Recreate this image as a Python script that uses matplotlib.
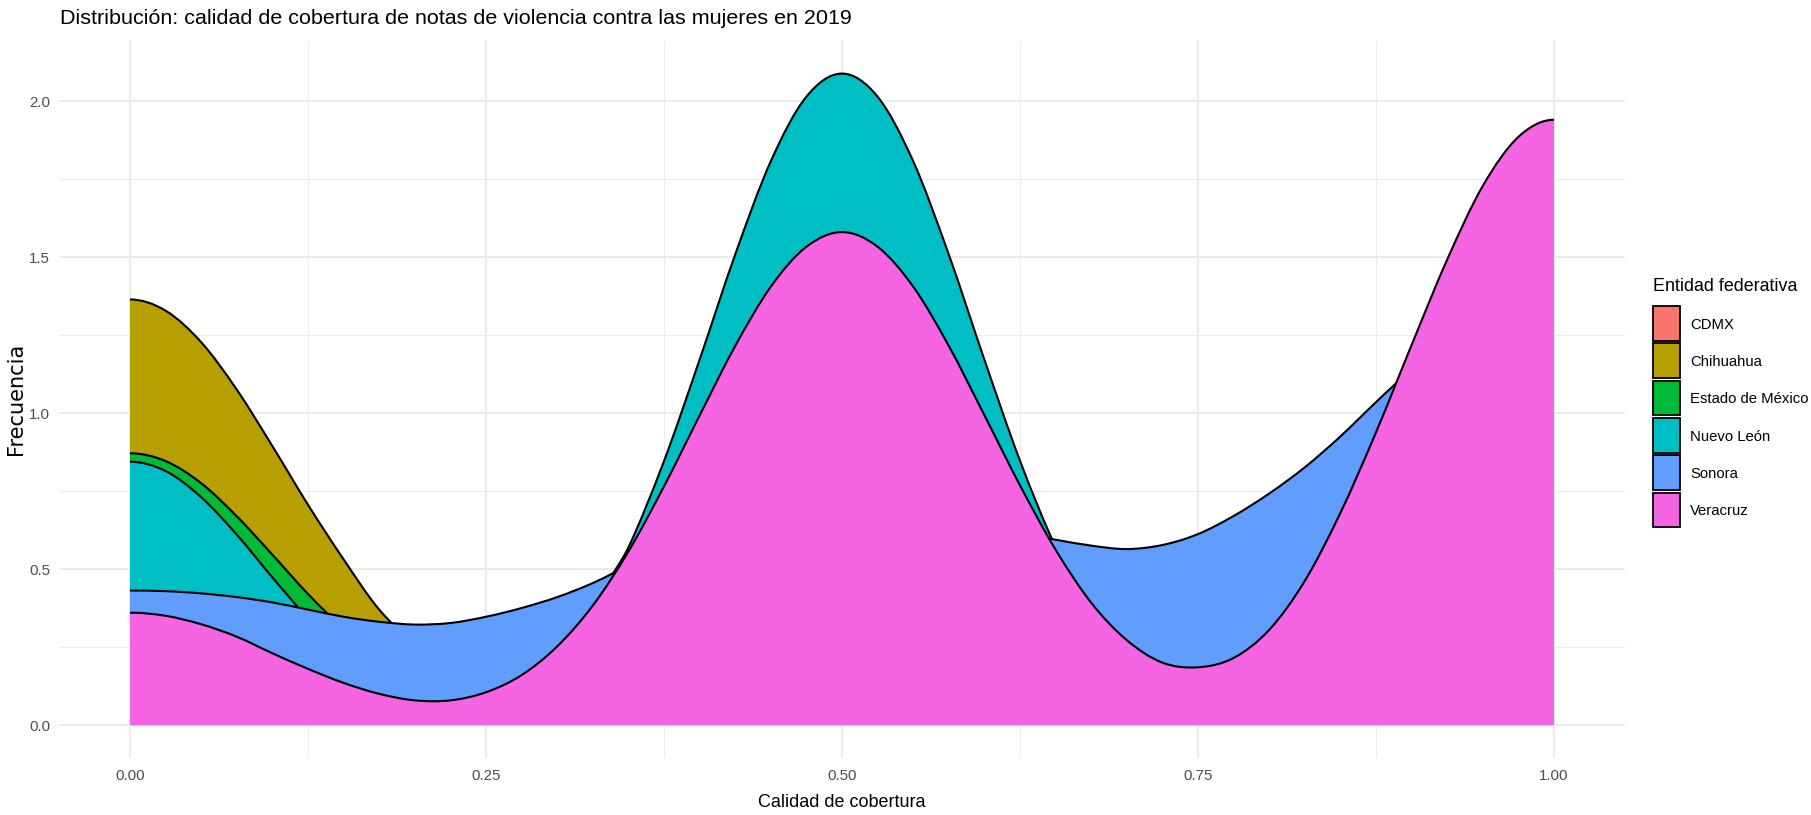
import numpy as np
import matplotlib
matplotlib.use("Agg")
import matplotlib.pyplot as plt
from matplotlib.path import Path
from matplotlib.patches import PathPatch, Rectangle
from matplotlib.ticker import MultipleLocator, FormatStrFormatter
from matplotlib import font_manager

# valores (densidad por entidad)
calidad = [0.000, 0.025, 0.050, 0.075, 0.100, 0.125, 0.150, 0.175, 0.200, 0.225,
           0.250, 0.275, 0.300, 0.325, 0.350, 0.375, 0.400, 0.425, 0.450, 0.475,
           0.500, 0.525, 0.550, 0.575, 0.600, 0.625, 0.650, 0.675, 0.700, 0.725,
           0.750, 0.775, 0.800, 0.825, 0.850, 0.875, 0.900, 0.925, 0.950, 0.975,
           1.000]

cdmx = [1.226, 1.188, 1.082, 0.925, 0.744, 0.561, 0.400, 0.269, 0.175, 0.116,
        0.089, 0.092, 0.122, 0.179, 0.263, 0.366, 0.485, 0.604, 0.706, 0.775,
        0.800, 0.775, 0.706, 0.604, 0.485, 0.367, 0.263, 0.181, 0.125, 0.100,
        0.104, 0.143, 0.222, 0.344, 0.513, 0.721, 0.955, 1.188, 1.389, 1.526,
        1.574]

chihuahua = [1.364, 1.328, 1.227, 1.075, 0.894, 0.706, 0.531, 0.370, 0.262, 0.192,
             0.158, 0.158, 0.195, 0.262, 0.355, 0.464, 0.589, 0.709, 0.809, 0.877,
             0.900, 0.877, 0.809, 0.709, 0.589, 0.464, 0.347, 0.246, 0.165, 0.105,
             0.066, 0.042, 0.028, 0.021, 0.018, 0.017, 0.017, 0.018, 0.019, 0.020,
             0.020]

edomex = [0.871, 0.846, 0.775, 0.669, 0.546, 0.420, 0.308, 0.218, 0.157, 0.127,
          0.132, 0.175, 0.261, 0.391, 0.566, 0.778, 1.013, 1.244, 1.441, 1.573,
          1.620, 1.573, 1.441, 1.244, 1.013, 0.778, 0.563, 0.385, 0.248, 0.150,
          0.088, 0.050, 0.030, 0.021, 0.018, 0.017, 0.017, 0.018, 0.019, 0.020,
          0.020]

nuevo_leon = [0.844, 0.814, 0.730, 0.610, 0.473, 0.342, 0.232, 0.148, 0.095, 0.072,
              0.079, 0.123, 0.211, 0.357, 0.569, 0.846, 1.171, 1.508, 1.807, 2.014,
              2.088, 2.014, 1.807, 1.508, 1.171, 0.847, 0.571, 0.361, 0.212, 0.123,
              0.080, 0.073, 0.099, 0.155, 0.243, 0.358, 0.496, 0.639, 0.765, 0.853,
              0.884]

sonora = [0.431, 0.429, 0.422, 0.410, 0.393, 0.370, 0.347, 0.331, 0.322, 0.327,
          0.347, 0.375, 0.410, 0.455, 0.510, 0.555, 0.590, 0.620, 0.640, 0.655,
          0.660, 0.660, 0.655, 0.645, 0.630, 0.614, 0.594, 0.575, 0.564, 0.577,
          0.612, 0.670, 0.742, 0.826, 0.925, 1.035, 1.140, 1.230, 1.295, 1.333,
          1.343]

veracruz = [0.360, 0.350, 0.323, 0.283, 0.230, 0.180, 0.135, 0.100, 0.079, 0.079,
            0.105, 0.160, 0.252, 0.383, 0.556, 0.765, 0.992, 1.215, 1.405, 1.533,
            1.580, 1.533, 1.405, 1.215, 0.993, 0.768, 0.562, 0.392, 0.272, 0.200,
            0.185, 0.215, 0.305, 0.462, 0.680, 0.938, 1.218, 1.492, 1.728, 1.885,
            1.940]

entidades = ["CDMX", "Chihuahua", "Estado de México", "Nuevo León", "Sonora", "Veracruz"]
densidades = [cdmx, chihuahua, edomex, nuevo_leon, sonora, veracruz]
colores = ["#F8766D", "#B79F00", "#00BA38", "#00BFC4", "#619CFF", "#F564E3"]

x_ticks = [0.0, 0.25, 0.5, 0.75, 1.0]
y_ticks = [0.0, 0.5, 1.0, 1.5, 2.0]

disponibles = {f.name for f in font_manager.fontManager.ttflist}
if "Liberation Sans Narrow" in disponibles:
    NARROW, esc = "Liberation Sans Narrow", 1.0
else:
    NARROW, esc = "Liberation Sans", 0.86
REGULAR = "Liberation Sans"

W, H = 1811, 815


def curva(x, y):
    # curva suave por los puntos; en los extremos se refleja (pendiente cero en el borde)
    pts = np.column_stack([np.asarray(x, float), np.asarray(y, float)])
    ini = np.array([2 * pts[0, 0] - pts[1, 0], pts[1, 1]])
    fin = np.array([2 * pts[-1, 0] - pts[-2, 0], pts[-2, 1]])
    ext = np.vstack([ini, pts, fin])
    verts = [pts[0]]
    codes = [Path.MOVETO]
    for i in range(len(pts) - 1):
        p0, p1, p2, p3 = ext[i], ext[i + 1], ext[i + 2], ext[i + 3]
        verts += [p1 + (p2 - p0) / 6, p2 - (p3 - p1) / 6, p2]
        codes += [Path.CURVE4] * 3
    return np.array(verts), codes


fig = plt.figure(figsize=(W / 100, H / 100), dpi=100)
ax_l, ax_r, ax_t, ax_b = 58.8, 1625.2, 41.0, 757.6
ax = fig.add_axes([ax_l / W, 1 - ax_b / H, (ax_r - ax_l) / W, (ax_b - ax_t) / H])

for i, (dens, col) in enumerate(zip(densidades, colores)):
    verts, codes = curva(calidad, dens)
    x0, x1 = calidad[0], calidad[-1]
    fill_verts = np.vstack([[x0, 0.0], verts, [x1, 0.0], [x0, 0.0]])
    fill_codes = [Path.MOVETO, Path.LINETO] + codes[1:] + [Path.LINETO, Path.CLOSEPOLY]
    ax.add_patch(PathPatch(Path(fill_verts, fill_codes), facecolor=col,
                           edgecolor="none", zorder=2 + 2 * i))
    ax.add_patch(PathPatch(Path(verts, codes), facecolor="none", edgecolor="black",
                           lw=1.5, capstyle="butt", zorder=3 + 2 * i))

ymax = max(max(d) for d in densidades)
ax.set_xlim(-0.05, 1.05)
ax.set_ylim(-0.05 * ymax, 1.05 * ymax)

ax.set_xticks(x_ticks)
ax.set_yticks(y_ticks)
ax.xaxis.set_minor_locator(MultipleLocator(0.125))
ax.yaxis.set_minor_locator(MultipleLocator(0.25))
ax.xaxis.set_major_formatter(FormatStrFormatter("%.2f"))
ax.yaxis.set_major_formatter(FormatStrFormatter("%.1f"))
ax.grid(which="major", color="#EBEBEB", lw=1.4)
ax.grid(which="minor", color="#EBEBEB", lw=0.7)
ax.set_axisbelow(True)
for s in ax.spines.values():
    s.set_visible(False)
ax.tick_params(which="both", length=0)
ax.tick_params(axis="x", pad=8, labelsize=12.6 * esc, labelcolor="#4D4D4D")
ax.tick_params(axis="y", pad=6.3, labelsize=12.6 * esc, labelcolor="#4D4D4D")
for lab in ax.get_xticklabels() + ax.get_yticklabels():
    lab.set_family(NARROW)

fig.text(60 / W, 1 - 24 / H,
         "Distribución: calidad de cobertura de notas de violencia contra las mujeres en 2019",
         family=NARROW, fontsize=18 * esc, ha="left", va="baseline")
fig.text((ax_l + ax_r) / 2 / W, 1 - 806.7 / H, "Calidad de cobertura",
         family=REGULAR, fontsize=13, ha="center", va="baseline")
fig.text(15.8 / W, 1 - (ax_t + ax_b) / 2 / H, "Frecuencia", family="DejaVu Sans",
         fontsize=15, rotation=90, ha="center", va="center")

# leyenda
leg_x, box_w, box_h, paso, top0 = 1653, 27, 34.7, 37.3, 306
fig.text(leg_x / W, 1 - 290.7 / H, "Entidad federativa", family=NARROW,
         fontsize=15 * esc, ha="left", va="baseline")
for i, (nombre, col) in enumerate(zip(entidades, colores)):
    top = top0 + i * paso
    fig.patches.append(Rectangle((leg_x / W, 1 - (top + box_h) / H), box_w / W, box_h / H,
                                 transform=fig.transFigure, facecolor=col,
                                 edgecolor="black", lw=1.3))
    fig.text(1690 / W, 1 - (top + box_h / 2) / H, nombre, family=NARROW,
             fontsize=12.5 * esc, ha="left", va="center_baseline")

fig.savefig("out.png", dpi=100)
